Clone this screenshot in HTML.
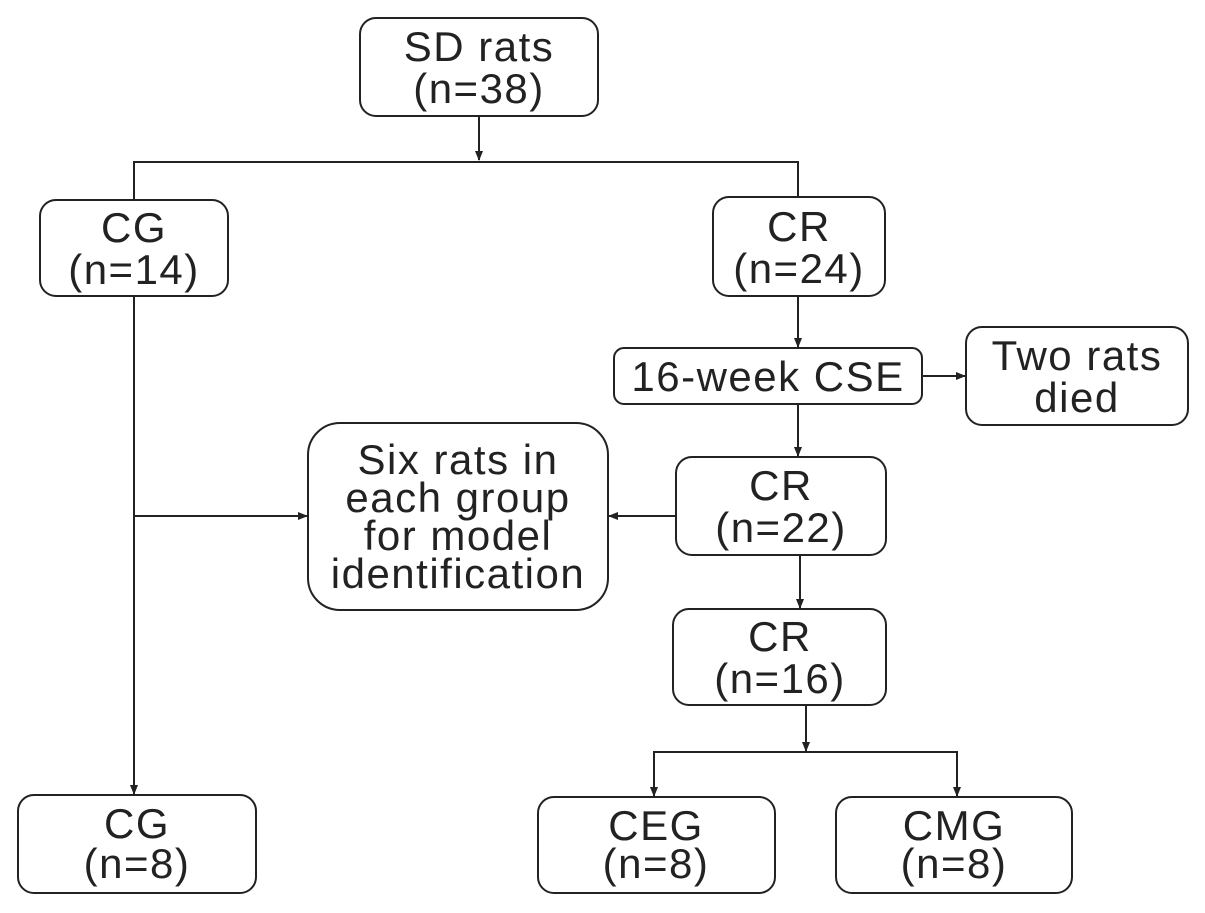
<!DOCTYPE html>
<html><head><meta charset="utf-8"><style>
html,body{margin:0;padding:0;background:#fff;}
svg{display:block;}
text{font-family:"Liberation Sans",Arial,sans-serif;font-size:42px;letter-spacing:1.5px;fill:#222;text-anchor:middle;}
</style></head><body>
<svg width="1205" height="913" viewBox="0 0 1205 913" xmlns="http://www.w3.org/2000/svg">
<defs><marker id="a" markerWidth="10" markerHeight="10" refX="9" refY="5" orient="auto" markerUnits="userSpaceOnUse"><path d="M0,1 L10,5 L0,9 z" fill="#222"/></marker></defs>
<g fill="none" stroke="#222" stroke-width="2">
<rect x="360" y="18" width="238" height="98" rx="16"/>
<rect x="40" y="200" width="188" height="96" rx="16"/>
<rect x="713" y="197" width="172" height="99" rx="16"/>
<rect x="614" y="348" width="308" height="56" rx="10"/>
<rect x="966" y="327" width="222" height="98" rx="16"/>
<rect x="308" y="423" width="300" height="187" rx="32"/>
<rect x="676" y="457" width="210" height="98" rx="16"/>
<rect x="673" y="609" width="213" height="96" rx="16"/>
<rect x="18" y="795" width="238" height="98" rx="16"/>
<rect x="538" y="797" width="237" height="96" rx="16"/>
<rect x="836" y="797" width="236" height="96" rx="16"/>
<path d="M479 116V160" marker-end="url(#a)"/>
<path d="M134 199V162H798V196"/>
<path d="M134 296V794" marker-end="url(#a)"/>
<path d="M134 516H307" marker-end="url(#a)"/>
<path d="M798 296V347" marker-end="url(#a)"/>
<path d="M922 376H965" marker-end="url(#a)"/>
<path d="M798 404V456" marker-end="url(#a)"/>
<path d="M676 516H609" marker-end="url(#a)"/>
<path d="M800 555V608" marker-end="url(#a)"/>
<path d="M806 705V751" marker-end="url(#a)"/>
<path d="M654 796V752H957V796" marker-end="url(#a)"/>
<path d="M654 752V796" marker-end="url(#a)"/>
</g>
<text x="479" y="61">SD rats</text><text x="479" y="103">(n=38)</text>
<text x="134" y="242">CG</text><text x="134" y="284">(n=14)</text>
<text x="799" y="241">CR</text><text x="799" y="283">(n=24)</text>
<text x="768" y="391">16-week CSE</text>
<text x="1077" y="370">Two rats</text><text x="1077" y="412">died</text>
<text x="458" y="474">Six rats in</text><text x="458" y="512">each group</text><text x="458" y="550">for model</text><text x="458" y="588">identification</text>
<text x="781" y="500">CR</text><text x="781" y="542">(n=22)</text>
<text x="780" y="651">CR</text><text x="780" y="693">(n=16)</text>
<text x="137" y="838">CG</text><text x="137" y="878">(n=8)</text>
<text x="656" y="840">CEG</text><text x="656" y="878">(n=8)</text>
<text x="954" y="840">CMG</text><text x="954" y="878">(n=8)</text>
</svg>
</body></html>
